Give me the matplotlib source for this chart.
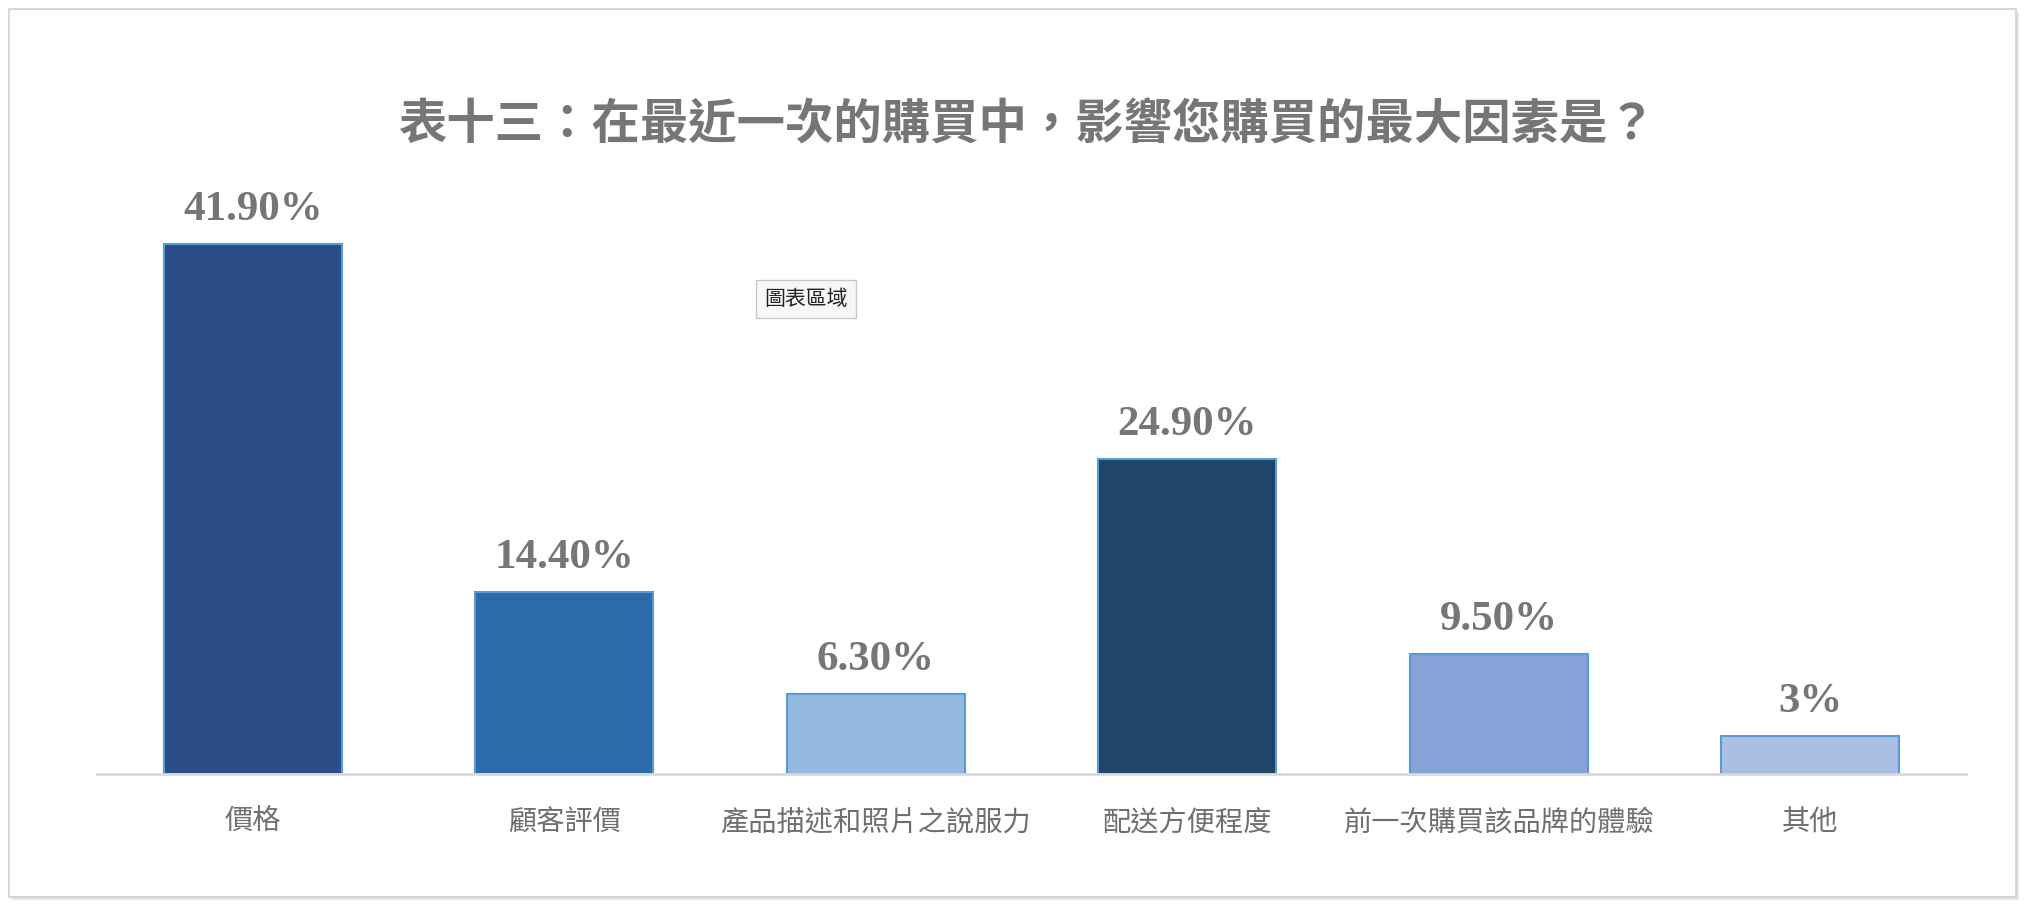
import matplotlib.pyplot as plt
from matplotlib.patches import Rectangle

plt.rcParams['font.family'] = ['Noto Sans CJK TC', 'DejaVu Sans']

categories = ['價格', '顧客評價', '產品描述和照片之說服力', '配送方便程度', '前一次購買該品牌的體驗', '其他']
values = [41.9, 14.4, 6.3, 24.9, 9.5, 3.0]
value_labels = ['41.90%', '14.40%', '6.30%', '24.90%', '9.50%', '3%']
bar_colors = ['#2B4D88', '#2C6BAA', '#95BAE0', '#1F4569', '#86A2D6', '#A9BFE3']
title = '表十三：在最近一次的購買中，影響您購買的最大因素是？'

fig = plt.figure(figsize=(20.26, 9.08), dpi=100)

# outer chart frame (drawn behind the axes)
fig.patches.append(Rectangle((12 / 2026, 1 - 900 / 908), 2007 / 2026, 888 / 908,
                             transform=fig.transFigure, facecolor='#e6e6e6',
                             edgecolor='none', zorder=-2))
fig.patches.append(Rectangle((9 / 2026, 1 - 897 / 908), 2007 / 2026, 888 / 908,
                             transform=fig.transFigure, facecolor='white',
                             edgecolor='#cfcfcf', linewidth=1.2, zorder=-1))

ax = fig.add_axes([97 / 2026, 134 / 908, 1869 / 2026, 569 / 908])
ax.set_zorder(1)
ax.set_facecolor('none')
x = range(len(categories))
ax.bar(x, values, width=0.57, color=bar_colors, edgecolor='#5B9BD5', linewidth=1.5)

for xi, v, lab in zip(x, values, value_labels):
    ax.annotate(lab, (xi, v), xytext=(0, 11), textcoords='offset points',
                ha='center', va='bottom', fontsize=31, fontweight='bold',
                color='#767676', family='Liberation Serif')

ax.set_xlim(-0.5, len(categories) - 0.5)
ax.set_ylim(0, 45)
ax.set_xticks(list(x))
ax.set_xticklabels(categories, fontsize=20.3, color='#6f6f6f')
ax.tick_params(axis='x', length=0, pad=24)
ax.set_yticks([])
for s in ['left', 'right', 'top']:
    ax.spines[s].set_visible(False)
ax.spines['bottom'].set_color('#d9d9d9')
ax.spines['bottom'].set_linewidth(2)

fig.text(1027 / 2026, 1 - 125 / 908, title, ha='center', va='center',
         fontsize=34.8, fontweight='bold', color='#767676')

# hover tooltip shown in the source screenshot
fig.text(806 / 2026, 1 - 299 / 908, '圖表區域', ha='center', va='center',
         fontsize=15, color='#222222', zorder=5,
         bbox=dict(boxstyle='square,pad=0.4', facecolor='#f7f7f7', edgecolor='#c8c8c8'))

fig.savefig('out.png', dpi=100)
